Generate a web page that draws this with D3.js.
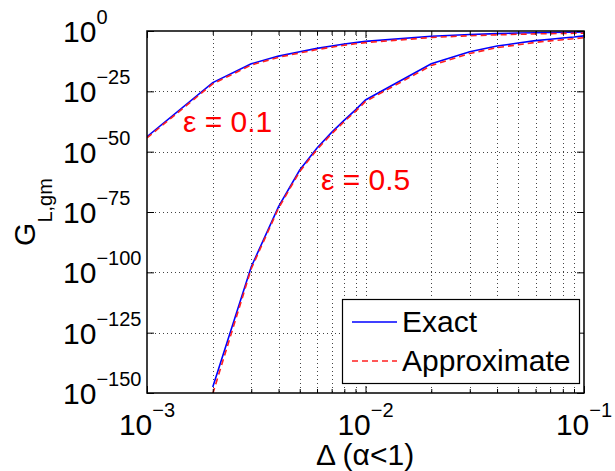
<!DOCTYPE html>
<html>
<head>
<meta charset="utf-8">
<script src="https://cdn.jsdelivr.net/npm/d3@7"></script>
<style>
  body { margin: 0; background: #fff; }
  text { font-family: "Liberation Sans", Arial, Helvetica, sans-serif; }
</style>
</head>
<body>
<script>
// Delta values (x axis)
const deltas = [0.001, 0.002, 0.003, 0.004, 0.005, 0.006, 0.007, 0.008, 0.009,
                0.01, 0.02, 0.03, 0.04, 0.05, 0.06, 0.07, 0.08, 0.09, 0.1];
const deltas05 = deltas.slice(1);

// log10 of G_L,gm
const exact01  = [-43.8, -21.4, -13.6, -10.4, -8.6, -7.2, -6.2, -5.4, -4.8,
                  -4.3, -2.2, -1.45, -1.1, -0.85, -0.7, -0.6, -0.52, -0.46, -0.41];
const approx01 = [-44.3, -21.9, -14.1, -10.9, -9.1, -7.7, -6.7, -5.9, -5.3,
                  -4.8, -2.7, -1.95, -1.6, -1.35, -1.2, -1.1, -1.0, -0.95, -0.9];
const exact05  = [-147.5, -97.7, -72.8, -57.6, -48.5, -42.0, -36.9, -32.7,
                  -28.6, -13.6, -8.6, -6.2, -5.0, -4.0, -3.4, -2.9, -2.5, -2.0];
const approx05 = [-150.3, -98.5, -73.4, -58.2, -49.1, -42.6, -37.5, -33.3,
                  -29.2, -14.3, -9.3, -6.9, -5.7, -4.7, -4.1, -3.6, -3.2, -2.8];

const xTickVals = [1e-3, 1e-2, 1e-1];
const xTickExp = ['\u22123', '\u22122', '\u22121'];
const yTickExp = [0, -25, -50, -75, -100, -125, -150];

const w = 615, h = 471;
const margin = { top: 31, right: 31, bottom: 78, left: 147 };
const iw = w - margin.left - margin.right;
const ih = h - margin.top - margin.bottom;
const fs = 30, fsSup = 20;

const svg = d3.select('body').append('svg')
  .attr('width', w).attr('height', h)
  .style('background', '#fff');

const x = d3.scaleLog().domain([1e-3, 1e-1]).range([0, iw]);
const y = d3.scaleLog().domain([1e-150, 1e0]).range([ih, 0]);

const g = svg.append('g').attr('transform', `translate(${margin.left},${margin.top})`);

// minor x positions 2..9 x each decade
let xMinor = [];
[1e-3, 1e-2].forEach(dec => { for (let k = 2; k <= 9; k++) xMinor.push(k * dec); });
const yTickVals = yTickExp.map(e => Math.pow(10, e));

// grid
const grid = g.append('g').attr('stroke', '#444').attr('stroke-width', 1)
  .attr('stroke-dasharray', '1,3');
grid.selectAll('.gx').data(xMinor.concat([1e-2])).enter().append('line')
  .attr('x1', d => Math.round(x(d)) + 0.5).attr('x2', d => Math.round(x(d)) + 0.5)
  .attr('y1', 0).attr('y2', ih);
grid.selectAll('.gy').data(yTickVals.slice(1, -1)).enter().append('line')
  .attr('y1', d => Math.round(y(d)) + 0.5).attr('y2', d => Math.round(y(d)) + 0.5)
  .attr('x1', 0).attr('x2', iw);

// curves
g.append('clipPath').attr('id', 'clip').append('rect')
  .attr('x', 0).attr('y', 0).attr('width', iw).attr('height', ih);

const line = d3.line().x(d => x(d[0])).y(d => y(Math.pow(10, d[1])));
const curves = [
  { xs: deltas, ys: exact01, color: '#0000ff', dash: null },
  { xs: deltas, ys: approx01, color: '#ff2020', dash: '6,4' },
  { xs: deltas05, ys: exact05, color: '#0000ff', dash: null },
  { xs: deltas05, ys: approx05, color: '#ff2020', dash: '6,4' }
];
const plot = g.append('g').attr('clip-path', 'url(#clip)');
// exact first, approximations on top
[0, 2, 1, 3].forEach(i => {
  const c = curves[i];
  plot.append('path')
    .datum(c.xs.map((d, j) => [d, c.ys[j]]))
    .attr('fill', 'none')
    .attr('stroke', c.color)
    .attr('stroke-width', 1.6)
    .attr('stroke-dasharray', c.dash)
    .attr('d', line);
});

// axes (ticks pointing inward)
function styleAxis(sel) {
  sel.select('.domain').remove();
  sel.selectAll('line').attr('stroke', '#000');
}
g.append('g').attr('transform', `translate(0,${ih})`)
  .call(d3.axisBottom(x).tickValues(xTickVals).tickSize(-7).tickFormat('')).call(styleAxis);
g.append('g').attr('transform', `translate(0,${ih})`)
  .call(d3.axisBottom(x).tickValues(xMinor).tickSize(-4).tickFormat('')).call(styleAxis);
g.append('g')
  .call(d3.axisTop(x).tickValues(xTickVals).tickSize(-7).tickFormat('')).call(styleAxis);
g.append('g')
  .call(d3.axisTop(x).tickValues(xMinor).tickSize(-4).tickFormat('')).call(styleAxis);
g.append('g')
  .call(d3.axisLeft(y).tickValues(yTickVals).tickSize(-7).tickFormat('')).call(styleAxis);
g.append('g').attr('transform', `translate(${iw},0)`)
  .call(d3.axisRight(y).tickValues(yTickVals).tickSize(-7).tickFormat('')).call(styleAxis);

// box
g.append('rect').attr('x', 0).attr('y', 0).attr('width', iw).attr('height', ih)
  .attr('fill', 'none').attr('stroke', '#000').attr('stroke-width', 1.5);

// y tick labels
yTickVals.forEach((v, i) => {
  const t = g.append('text')
    .attr('x', 63 - margin.left)
    .attr('y', y(v) + 11)
    .attr('font-size', fs)
    .attr('fill', '#000');
  t.append('tspan').text('10');
  t.append('tspan').attr('dy', -18).attr('font-size', fsSup)
    .text(yTickExp[i] === 0 ? '0' : '\u2212' + (-yTickExp[i]));
});

// x tick labels
xTickVals.forEach((v, i) => {
  const t = g.append('text')
    .attr('x', x(v))
    .attr('y', ih + 42)
    .attr('text-anchor', 'middle')
    .attr('font-size', fs)
    .attr('fill', '#000');
  t.append('tspan').text('10');
  t.append('tspan').attr('dy', -18).attr('font-size', fsSup).text(xTickExp[i]);
});

// axis labels
svg.append('text')
  .attr('x', 365).attr('y', 465)
  .attr('text-anchor', 'middle')
  .attr('font-size', fs)
  .text('\u0394 (\u03b1<1)');

const yl = svg.append('text')
  .attr('transform', 'translate(35,212) rotate(-90)')
  .attr('text-anchor', 'middle')
  .attr('font-size', fs);
yl.append('tspan').text('G');
yl.append('tspan').attr('dy', 17).attr('font-size', fsSup).text('L,gm');

// curve annotations
svg.append('text').attr('x', 183).attr('y', 132)
  .attr('font-size', fs).attr('fill', '#ff0000').text('\u03b5 = 0.1');
svg.append('text').attr('x', 321).attr('y', 190)
  .attr('font-size', fs).attr('fill', '#ff0000').text('\u03b5 = 0.5');

// legend
const lg = svg.append('g');
lg.append('rect').attr('x', 342.5).attr('y', 299.5).attr('width', 237).attr('height', 84)
  .attr('fill', '#fff').attr('stroke', '#000').attr('stroke-width', 1.2);
const legendItems = [
  { label: 'Exact', color: '#0000ff', dash: null, y: 322 },
  { label: 'Approximate', color: '#ff2020', dash: '6,4', y: 361 }
];
legendItems.forEach(it => {
  lg.append('line').attr('x1', 352).attr('x2', 397).attr('y1', it.y).attr('y2', it.y)
    .attr('stroke', it.color).attr('stroke-width', 1.6).attr('stroke-dasharray', it.dash);
  lg.append('text').attr('x', 402).attr('y', it.y + 10)
    .attr('font-size', fs).attr('fill', '#000').text(it.label);
});
</script>
</body>
</html>
